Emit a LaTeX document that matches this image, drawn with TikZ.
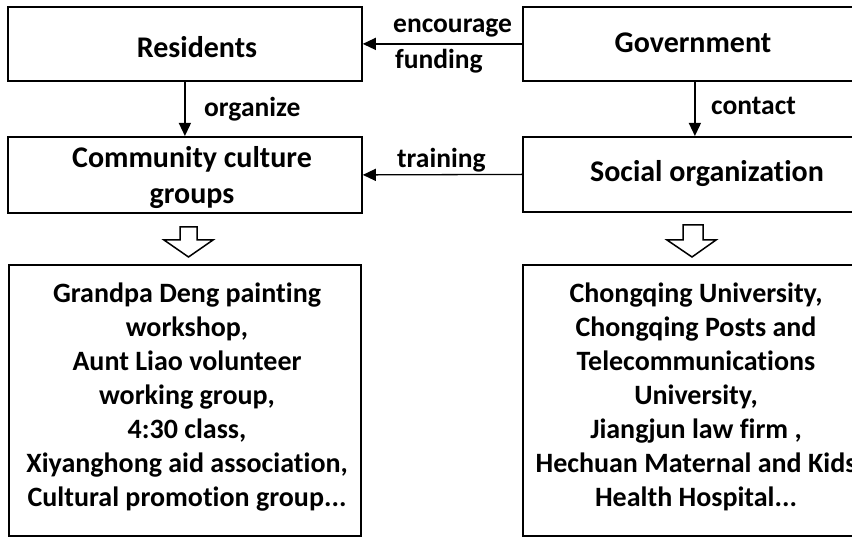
\documentclass[tikz,border=0pt]{standalone}
\usepackage{fontspec}
\setmainfont{Carlito}[Ligatures={NoCommon}]
\usetikzlibrary{arrows.meta}
\begin{document}
\begin{tikzpicture}[x=1pt,y=-1pt,
  box/.style={draw, line width=1.8pt, inner sep=0pt, anchor=north west},
  big/.style={font=\fontsize{30}{36}\selectfont\bfseries, inner sep=0pt, anchor=base},
  lab/.style={font=\fontsize{27.5}{33}\selectfont\bfseries, inner sep=0pt, anchor=base west},
  list/.style={font=\fontsize{28}{34}\selectfont\bfseries, inner sep=0pt, align=center},
  arr/.style={line width=1.3pt, -{Triangle[length=13pt,width=12pt]}},
  hollow/.style={draw, line width=1.5pt, fill=white, line join=miter}]
\useasboundingbox (0,0) rectangle (852,537);
\clip (0,0) rectangle (852,537);
% boxes
\node[box, minimum width=354pt, minimum height=74pt] (res) at (7,6) {};
\node[box, minimum width=344pt, minimum height=74pt] (gov) at (522,6) {};
\node[box, minimum width=354pt, minimum height=76pt] (com) at (7,136) {};
\node[box, minimum width=344pt, minimum height=75pt] (soc) at (522,136) {};
\node[box, minimum width=352pt, minimum height=271pt] (lst1) at (8,264) {};
\node[box, minimum width=344pt, minimum height=271pt] (lst2) at (522,264) {};
% texts
\node[big] (tres) at (197,58) {Residents};
\node[big] (tgov) at (693,53) {Government};
\node[big] (tcom1) at (192,168) {Community culture};
\node[big] (tcom2) at (192,204) {groups};
\node[big] (tsoc) at (707,182) {Social organization};
\node[list] (tl1) at (187,397) {Grandpa Deng painting\\workshop,\\Aunt Liao volunteer\\working group,\\4:30 class,\\Xiyanghong aid association,\\Cultural promotion group...};
\node[list] (tl2) at (696,397) {Chongqing University,\\Chongqing Posts and\\Telecommunications\\University,\\Jiangjun law firm ,\hspace*{0.8em}\\Hechuan Maternal and Kids\\Health Hospital...};
% connectors
\draw[arr] (gov.west) -- (res.east);
\draw[arr] (soc.west) -- (com.east);
\draw[arr] (res.south) -- (com.north);
\draw[arr] (gov.south) -- (soc.north);
% labels
\node[lab] (lenc) at (393,33) {encourage};
\node[lab] (lfun) at (395,69) {funding};
\node[lab] (ltra) at (397,168) {training};
\node[lab] (lorg) at (204,117) {organize};
\node[lab] (lcon) at (711,115) {contact};
% hollow arrows
\draw[hollow] (180,227) -- (197,227) -- (197,240) -- (213,240) -- (188.5,257) -- (164,240) -- (180,240) -- cycle;
\draw[hollow] (683,225) -- (703,225) -- (703,240) -- (716,240) -- (692,257) -- (667,240) -- (683,240) -- cycle;
\end{tikzpicture}
\end{document}
